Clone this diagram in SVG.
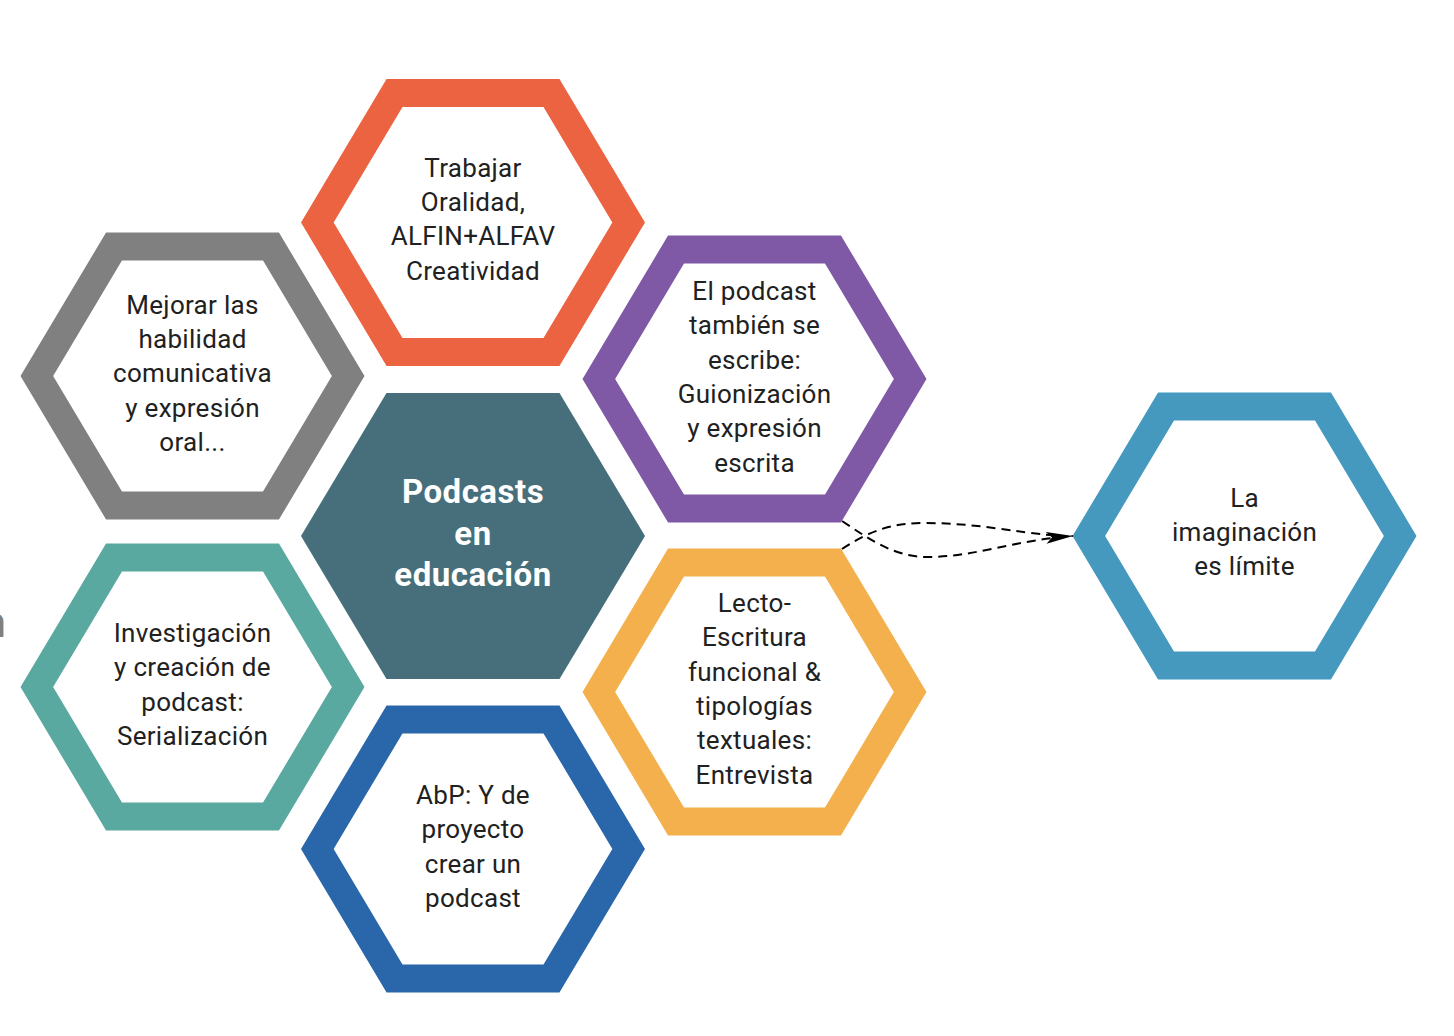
<svg xmlns="http://www.w3.org/2000/svg" width="1454" height="1036" viewBox="0 0 1454 1036">
<style>
.ring{fill:none;stroke-width:28;stroke-linejoin:miter}
.t{font-family:Roboto,"Liberation Sans",sans-serif;font-size:26px;letter-spacing:0.3px;fill:#212121;text-anchor:middle}
.c{font-family:Roboto,"Liberation Sans",sans-serif;font-size:33px;letter-spacing:0.5px;font-weight:bold;fill:#ffffff;text-anchor:middle}
.conn{fill:none;stroke:#000;stroke-width:2;stroke-dasharray:9 6}
</style>
<defs>
<polygon id="hexring" points="-78.5,-129.5 78.5,-129.5 155.7,0 78.5,129.5 -78.5,129.5 -155.7,0"/>
<marker id="arrow" markerUnits="userSpaceOnUse" markerWidth="30" markerHeight="14" refX="27" refY="6" orient="auto">
<path d="M0,0 L27,6 L0,12 L6,6 Z" fill="#000"/>
</marker>
</defs>
<rect width="1454" height="1036" fill="#ffffff"/>
<text x="-17" y="637" style="font-family:Roboto,'Liberation Sans',sans-serif;font-size:42px;fill:#808080">n</text>

<g id="connectors">
<path class="conn" d="M842,521 C872,541 895,557 928,557 C975,557 1015,540 1073,536" marker-end="url(#arrow)"/>
<path class="conn" d="M842,549 C872,529 895,523 925,523 C975,523 1015,532 1050,535"/>
</g>

<g id="center">
<polygon points="386.5,393 559.5,393 645,536 559.5,679 386.5,679 301,536" fill="#476f7b"/>
<text class="c" x="473" y="503">Podcasts</text>
<text class="c" x="473" y="545">en</text>
<text class="c" x="473" y="586">educación</text>
</g>

<g id="orange">
<use href="#hexring" class="ring" stroke="#ec6341" transform="translate(473,222.5)"/>
<text class="t" x="473" y="177">Trabajar</text>
<text class="t" x="473" y="211">Oralidad,</text>
<text class="t" x="473" y="245">ALFIN+ALFAV</text>
<text class="t" x="473" y="280">Creatividad</text>
</g>

<g id="gray">
<use href="#hexring" class="ring" stroke="#808080" transform="translate(192.5,376)"/>
<text class="t" x="192.5" y="314">Mejorar las</text>
<text class="t" x="192.5" y="348">habilidad</text>
<text class="t" x="192.5" y="382">comunicativa</text>
<text class="t" x="192.5" y="417">y expresión</text>
<text class="t" x="192.5" y="451">oral...</text>
</g>

<g id="purple">
<use href="#hexring" class="ring" stroke="#7f58a6" transform="translate(754.5,379)"/>
<text class="t" x="754.5" y="300">El podcast</text>
<text class="t" x="754.5" y="334">también se</text>
<text class="t" x="754.5" y="369">escribe:</text>
<text class="t" x="754.5" y="403">Guionización</text>
<text class="t" x="754.5" y="437">y expresión</text>
<text class="t" x="754.5" y="472">escrita</text>
</g>

<g id="teal">
<use href="#hexring" class="ring" stroke="#5aa9a0" transform="translate(192.5,687)"/>
<text class="t" x="192.5" y="642">Investigación</text>
<text class="t" x="192.5" y="676">y creación de</text>
<text class="t" x="192.5" y="711">podcast:</text>
<text class="t" x="192.5" y="745">Serialización</text>
</g>

<g id="yellow">
<use href="#hexring" class="ring" stroke="#f4b04c" transform="translate(754.5,692)"/>
<text class="t" x="754.5" y="612">Lecto-</text>
<text class="t" x="754.5" y="646">Escritura</text>
<text class="t" x="754.5" y="681">funcional &amp;</text>
<text class="t" x="754.5" y="715">tipologías</text>
<text class="t" x="754.5" y="749">textuales:</text>
<text class="t" x="754.5" y="784">Entrevista</text>
</g>

<g id="blue">
<use href="#hexring" class="ring" stroke="#2a66aa" transform="translate(473,849)"/>
<text class="t" x="473" y="804">AbP: Y de</text>
<text class="t" x="473" y="838">proyecto</text>
<text class="t" x="473" y="873">crear un</text>
<text class="t" x="473" y="907">podcast</text>
</g>

<g id="lightblue">
<use href="#hexring" class="ring" stroke="#4599bf" transform="translate(1244.5,536)"/>
<text class="t" x="1244.5" y="507">La</text>
<text class="t" x="1244.5" y="541">imaginación</text>
<text class="t" x="1244.5" y="575">es límite</text>
</g>
</svg>
